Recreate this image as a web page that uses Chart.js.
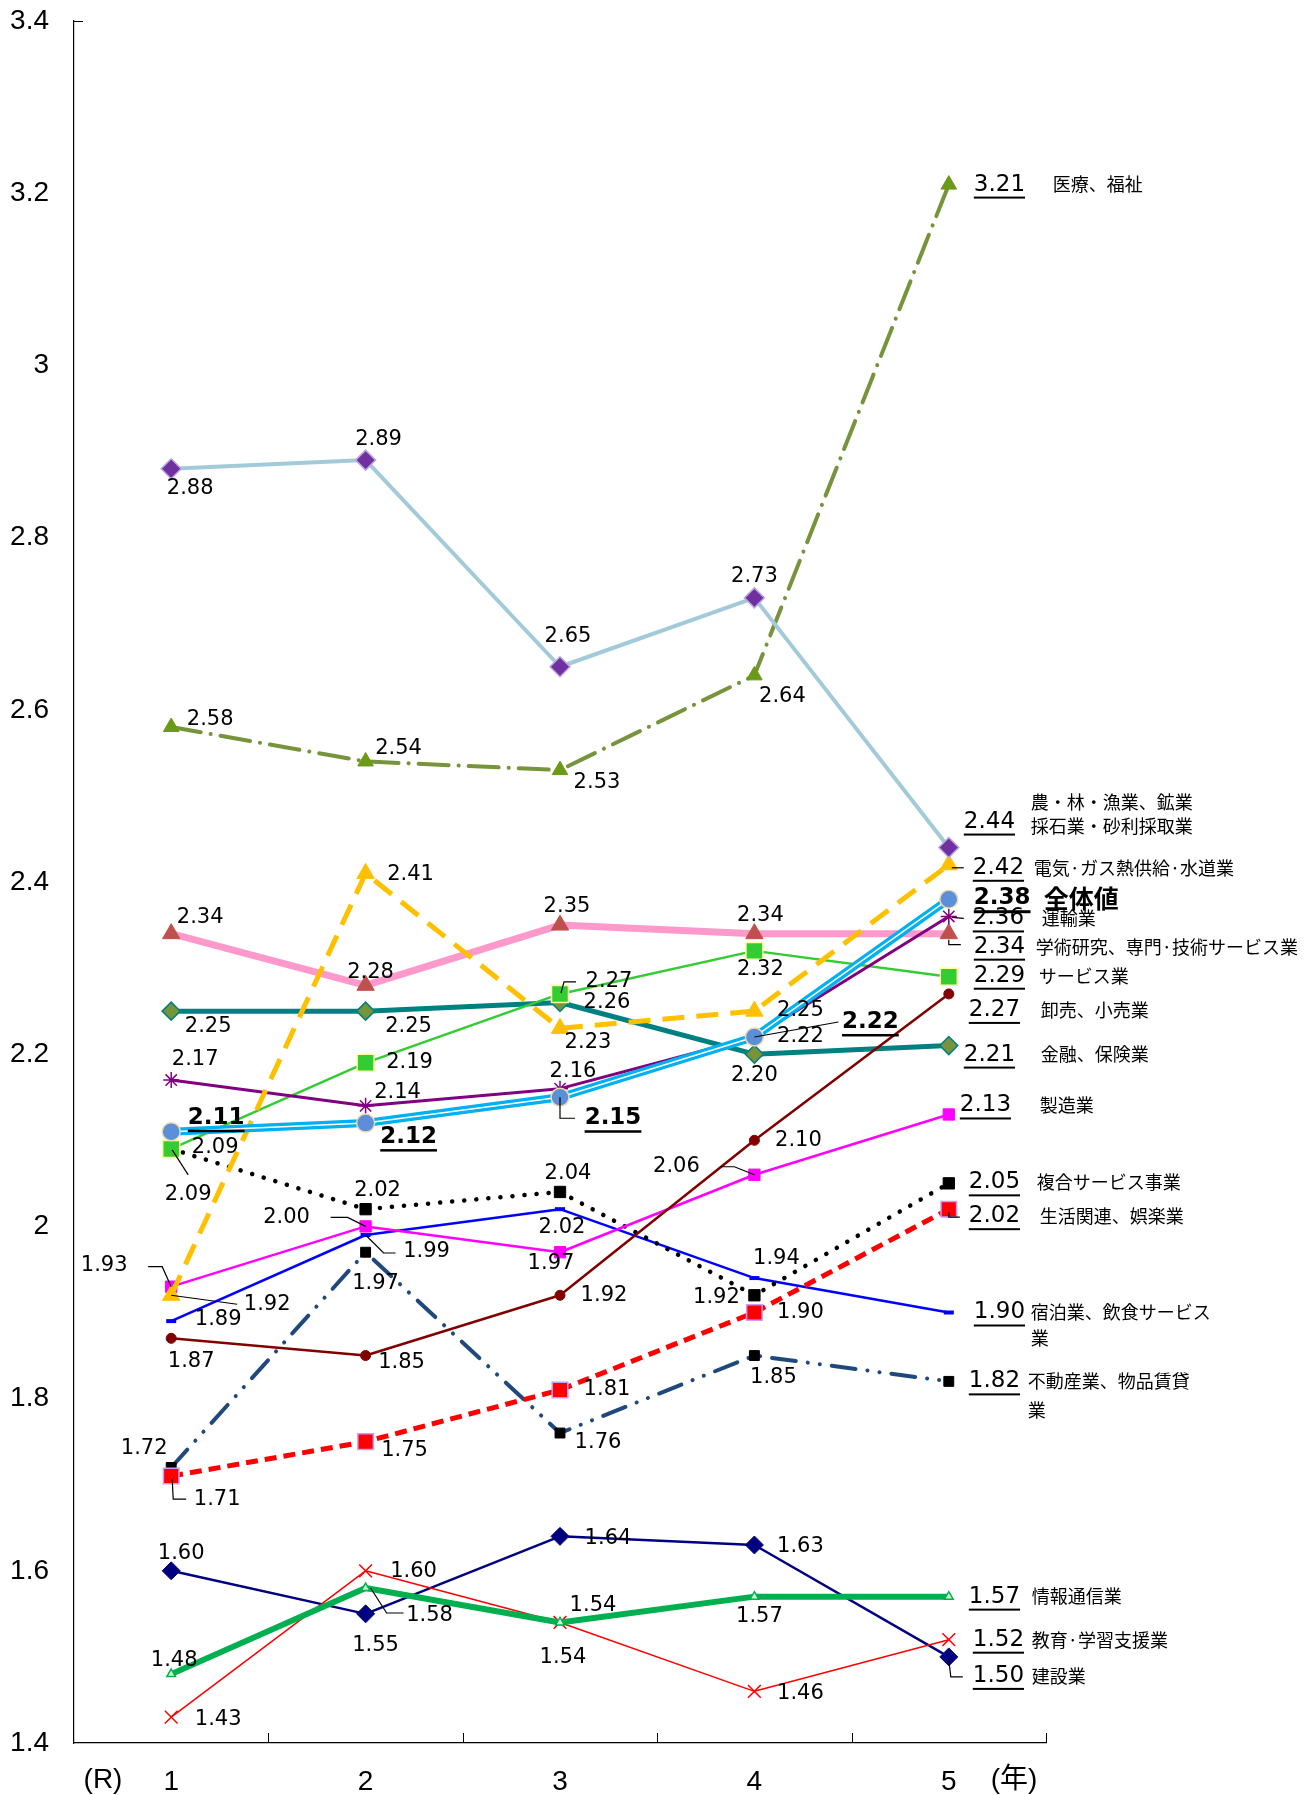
<!DOCTYPE html>
<html><head><meta charset="utf-8">
<script src="https://cdn.jsdelivr.net/npm/chart.js@4/dist/chart.umd.min.js"></script>
<style>html,body{margin:0;padding:0;background:#fff}canvas{display:block}</style>
</head><body>
<canvas id="c" width="1307" height="1795" style="width:1307px;height:1795px"></canvas>
<script>
// ---------- data ----------
const categories = ['1', '2', '3', '4', '5'];
const yTickLabels = ['1.4', '1.6', '1.8', '2', '2.2', '2.4', '2.6', '2.8', '3', '3.2', '3.4'];
const axisPrefix = '(R)';
const axisSuffix = '(年)';

const overall       = [2.11, 2.12, 2.15, 2.22, 2.38];
const agri          = [2.88, 2.89, 2.65, 2.73, 2.44];
const medical       = [2.58, 2.54, 2.53, 2.64, 3.21];
const utility       = [1.92, 2.41, 2.23, 2.25, 2.42];
const transport     = [2.17, 2.14, 2.16, 2.22, 2.36];
const academic      = [2.34, 2.28, 2.35, 2.34, 2.34];
const service       = [2.09, 2.19, 2.27, 2.32, 2.29];
const wholesale     = [1.87, 1.85, 1.92, 2.10, 2.27];
const finance       = [2.25, 2.25, 2.26, 2.20, 2.21];
const manufacturing = [1.93, 2.00, 1.97, 2.06, 2.13];
const compound      = [2.09, 2.02, 2.04, 1.92, 2.05];
const living        = [1.71, 1.75, 1.81, 1.90, 2.02];
const lodging       = [1.89, 1.99, 2.02, 1.94, 1.90];
const realEstate    = [1.72, 1.97, 1.76, 1.85, 1.82];
const info          = [1.48, 1.58, 1.54, 1.57, 1.57];
const education     = [1.43, 1.60, 1.54, 1.46, 1.52];
const construction  = [1.60, 1.55, 1.64, 1.63, 1.50];

const seriesNames = {
  overall: '全体値',
  agri: '農・林・漁業、鉱業採石業・砂利採取業',
  medical: '医療、福祉',
  utility: '電気·ガス熱供給·水道業',
  transport: '運輸業',
  academic: '学術研究、専門·技術サービス業',
  service: 'サービス業',
  wholesale: '卸売、小売業',
  finance: '金融、保険業',
  manufacturing: '製造業',
  compound: '複合サービス事業',
  living: '生活関連、娯楽業',
  lodging: '宿泊業、飲食サービス業',
  realEstate: '不動産業、物品賃貸業',
  info: '情報通信業',
  education: '教育·学習支援業',
  construction: '建設業'
};

// ---------- styles (label offsets relative to each point) ----------
const LABEL_FONT = '"DejaVu Sans", Verdana, sans-serif';
const CJK_FONT = '"Noto Sans CJK JP", sans-serif';
const TICK_FONT = '"Liberation Sans", Arial, "Noto Sans CJK JP", sans-serif';

const SERIES = [
  {key:'overall', values: overall, color:'#00B0F0', width:8, stripe:true,
   ps:'circle', r:9, bg:'#5B8FD8', bc:'#F0D9B0', bw:1.5, bold:true,
   lab:[[45,-14],[43,14],[53,21],[116,-15]], end:{vx:25, vy:-1, nx:95, ny:[-1]},
   leaders:{2:[[0,0],[0,21],[15,21]], 3:[[0,0],[84,-15]]}},
  {key:'agri', values: agri, color:'#A3CAD9', width:4,
   ps:'rectRot', r:10, bg:'#7030A0', bc:'#B9A6E0', bw:1.5,
   lab:[[19,20],[13,-21],[8,-30],[0,-21]], end:{vx:15, vy:-26, nx:82, ny:[-45,-21], wrap:9}},
  {key:'medical', values: medical, color:'#77933C', width:4, dash:[30,10,0.1,10], cap:'round',
   ps:'triangle', r:9, bg:'#6A9A16', bc:'#6A9A16', bw:1,
   lab:[[39,-7],[33,-13],[37,12],[28,21]], end:{vx:25, vy:0, nx:104, ny:[0]}},
  {key:'utility', values: utility, color:'#FFC000', width:5, dash:[22,12],
   ps:'triangle', r:10, bg:'#FFC000', bc:'#FFC000', bw:1,
   lab:[[96,9],[45,1],[28,14],[46,-1]], end:{vx:24, vy:3, nx:85, ny:[3]},
   leaders:{0:[[0,0],[66,9]], 4:[[3,3],[15,3]]}},
  {key:'transport', values: transport, color:'#800080', width:3,
   ps:'star', r:8, bg:'#800080', bc:'#800080', bw:1.5,
   lab:[[24,-20],[32,-13],[13,-17],[46,0]], end:{vx:24, vy:2, nx:93, ny:[2]},
   leaders:{4:[[3,1],[15,2]]}},
  {key:'academic', values: academic, color:'#FF99CC', width:7,
   ps:'triangle', r:10, bg:'#C0504D', bc:'#C0504D', bw:1,
   lab:[[29,-16],[5,-13],[7,-19],[6,-18]], end:{vx:25, vy:13, nx:87, ny:[13]},
   leaders:{4:[[0,6],[0,11],[12,11]]}},
  {key:'service', values: service, color:'#33CC33', width:2.5,
   ps:'rect', r:12, bg:'#33CC33', bc:'#FFFF99', bw:1.5,
   lab:[[17,46],[44,0],[49,-12],[6,19]], end:{vx:25, vy:-1, nx:90, ny:[-1]},
   leaders:{0:[[1,1],[17,26]], 2:[[1,-1],[4,-12],[16,-12]]}},
  {key:'wholesale', values: wholesale, color:'#800000', width:2.5,
   ps:'circle', r:5, bg:'#800000', bc:'#800000', bw:1,
   lab:[[20,23],[36,7],[44,0],[44,0]], end:{vx:20, vy:16, nx:92, ny:[16]}},
  {key:'finance', values: finance, color:'#008080', width:5,
   ps:'rectRot', r:9, bg:'#77933C', bc:'#008080', bw:1.5,
   lab:[[37,15],[43,15],[47,0],[0,21]], end:{vx:15, vy:9, nx:92, ny:[9]}},
  {key:'manufacturing', values: manufacturing, color:'#FF00FF', width:2.5,
   ps:'rect', r:8, bg:'#FF00FF', bc:'#FF00FF', bw:1,
   lab:[[-67,-21],[-79,-9],[-9,11],[-78,-8]], end:{vx:11, vy:-9, nx:91, ny:[-9]},
   leaders:{0:[[0,0],[-9,-20],[-23,-20]], 1:[[0,0],[-18,-9],[-35,-9]], 3:[[0,0],[-20,-8],[-34,-8]]}},
  {key:'compound', values: compound, color:'#000000', width:4.5, dash:[0.1,12], cap:'round',
   ps:'rect', r:8, bg:'#000000', bc:'#000000', bw:1,
   lab:[[44,-1],[12,-19],[8,-18],[-38,2]], end:{vx:20, vy:-1, nx:88, ny:[-1]}},
  {key:'living', values: living, color:'#FF0000', width:5, dash:[12,7],
   ps:'rect', r:11, bg:'#FF0000', bc:'#CC99FF', bw:1.5,
   lab:[[46,23],[39,9],[47,0],[46,0]], end:{vx:20, vy:7, nx:91, ny:[7]},
   leaders:{0:[[1,3],[2,23],[15,23]], 4:[[0,3],[0,8],[11,8]]}},
  {key:'lodging', values: lodging, color:'#0000FF', width:2.5,
   ps:'line', r:5, bg:'#0000FF', bc:'#0000FF', bw:4,
   lab:[[47,-2],[61,17],[2,18],[22,-20]], end:{vx:25, vy:0, nx:82, ny:[0,26], wrap:10},
   leaders:{1:[[0,0],[18,18],[30,18]]}},
  {key:'realEstate', values: realEstate, color:'#1F497D', width:4, dash:[24,12,0.1,12,0.1,12], cap:'round',
   ps:'rect', r:7, bg:'#000000', bc:'#000000', bw:1,
   lab:[[-27,-19],[10,31],[38,10],[19,22]], end:{vx:20, vy:0, nx:79, ny:[0,29], wrap:9}},
  {key:'info', values: info, color:'#00B050', width:6,
   ps:'triangle', r:5, bg:'#CCFFCC', bc:'#00B050', bw:1.5,
   lab:[[3,-14],[64,28],[33,-17],[5,20]], end:{vx:20, vy:0, nx:83, ny:[0]},
   leaders:{1:[[5,0],[21,25],[38,25]]}},
  {key:'education', values: education, color:'#FF0000', width:1.5,
   ps:'crossRot', r:9, bg:'#FF0000', bc:'#FF0000', bw:1.5,
   lab:[[47,2],[48,1],[3,35],[46,2]], end:{vx:24, vy:0, nx:83, ny:[0]}},
  {key:'construction', values: construction, color:'#000080', width:2.5,
   ps:'rectRot', r:9, bg:'#000080', bc:'#000080', bw:1,
   lab:[[10,-17],[10,32],[48,2],[46,2]], end:{vx:24, vy:19, nx:83, ny:[19]},
   leaders:{4:[[0,3],[2,20],[14,20]]}}
];

// ---------- datasets ----------
const datasets = [];
SERIES.forEach((s, i) => {
  const base = {
    label: seriesNames[s.key], data: s.values, fill: false, tension: 0,
    borderColor: s.color, borderWidth: s.width,
    borderDash: s.dash || [], borderCapStyle: s.cap || 'butt', borderJoinStyle: 'round',
    pointStyle: s.ps, pointRadius: s.r, pointBackgroundColor: s.bg,
    pointBorderColor: s.bc, pointBorderWidth: s.bw, pointHoverRadius: s.r,
    order: i + 2
  };
  if (s.stripe) {
    datasets.push(Object.assign({}, base, {pointRadius: 0, pointHoverRadius: 0, order: 1}));
    s.ds = datasets.length;
    datasets.push(Object.assign({}, base, {borderColor: '#FFFFFF', borderWidth: 1.5, order: 0}));
  } else {
    s.ds = datasets.length;
    datasets.push(base);
  }
});

// ---------- plugins ----------
const decorPlugin = {
  id: 'decor',
  afterDatasetsDraw(chart) {
    const ctx = chart.ctx;
    ctx.save();
    ctx.fillStyle = '#000';
    ctx.strokeStyle = '#000';
    SERIES.forEach(s => {
      const pts = chart.getDatasetMeta(s.ds).data;
      ctx.lineWidth = 1.2;
      ctx.setLineDash([]);
      Object.keys(s.leaders || {}).forEach(k => {
        const p = pts[k];
        ctx.beginPath();
        s.leaders[k].forEach(([dx, dy], j) => j ? ctx.lineTo(p.x + dx, p.y + dy) : ctx.moveTo(p.x + dx, p.y + dy));
        ctx.stroke();
      });
      ctx.textBaseline = 'middle';
      s.lab.forEach(([dx, dy], i) => {
        const p = pts[i];
        const t = s.values[i].toFixed(2);
        ctx.font = (s.bold ? 'bold 23px ' : '21px ') + LABEL_FONT;
        ctx.textAlign = 'center';
        ctx.fillText(t, p.x + dx, p.y + dy);
        if (s.bold) {
          const w = ctx.measureText(t).width;
          ctx.fillRect(p.x + dx - w / 2, p.y + dy + 12, w, 2.5);
        }
      });
      const p = pts[pts.length - 1];
      const e = s.end;
      const t = s.values[s.values.length - 1].toFixed(2);
      ctx.textAlign = 'left';
      ctx.font = (s.bold ? 'bold 23px ' : '23px ') + LABEL_FONT;
      ctx.fillText(t, p.x + e.vx, p.y + e.vy);
      const w = ctx.measureText(t).width;
      ctx.fillRect(p.x + e.vx, p.y + e.vy + 12, w, s.bold ? 3 : 2);
      const name = seriesNames[s.key];
      const lines = e.wrap ? [name.slice(0, e.wrap), name.slice(e.wrap)] : [name];
      ctx.font = (s.bold ? 'bold 25px ' : '18px ') + CJK_FONT;
      lines.forEach((ln, j) => ctx.fillText(ln, p.x + e.nx, p.y + e.ny[j]));
    });
    ctx.restore();
  },
  afterDraw(chart) {
    const ctx = chart.ctx;
    const xs = chart.scales.x, ys = chart.scales.y;
    const a = chart.chartArea;
    ctx.save();
    ctx.strokeStyle = '#000';
    ctx.lineWidth = 1;
    const n = categories.length;
    ctx.beginPath();
    for (let i = 1; i <= n; i++) {
      const x = Math.round(xs.left + i * (xs.width / n)) + 0.5;
      ctx.moveTo(x, a.bottom);
      ctx.lineTo(x, a.bottom - 10);
    }
    const yt = Math.round(ys.getPixelForValue(3.4)) + 0.5;
    ctx.moveTo(a.left, yt);
    ctx.lineTo(a.left + 9, yt);
    ctx.stroke();
    ctx.fillStyle = '#000';
    ctx.font = '28px ' + TICK_FONT;
    ctx.textAlign = 'center';
    ctx.textBaseline = 'middle';
    ctx.fillText(axisPrefix, 103, a.bottom + 37);
    ctx.fillText(axisSuffix, 1014, a.bottom + 37);
    ctx.restore();
  }
};

new Chart(document.getElementById('c'), {
  type: 'line',
  data: { labels: categories, datasets },
  options: {
    responsive: false,
    devicePixelRatio: 1,
    animation: false,
    events: [],
    layout: { padding: { top: 21, right: 261, bottom: 0, left: 0 } },
    plugins: { legend: { display: false }, tooltip: { enabled: false } },
    scales: {
      x: {
        type: 'category', offset: true,
        grid: { display: false, drawTicks: false },
        border: { display: true, color: '#000', width: 1.2 },
        ticks: { color: '#000', font: { family: TICK_FONT, size: 28 }, padding: 22, maxRotation: 0 },
        afterFit: s => { s.height = 52; s.paddingLeft = 0; s.paddingRight = 0; }
      },
      y: {
        min: 1.4, max: 3.4,
        grid: { display: false, drawTicks: false },
        border: { display: true, color: '#000', width: 1.2 },
        ticks: { stepSize: 0.2, color: '#000', font: { family: TICK_FONT, size: 28 }, padding: 25,
                 callback: (v, i) => yTickLabels[i] },
        afterFit: s => { s.width = 74; s.paddingTop = 0; s.paddingBottom = 0; }
      }
    }
  },
  plugins: [decorPlugin]
});
</script>
</body></html>
